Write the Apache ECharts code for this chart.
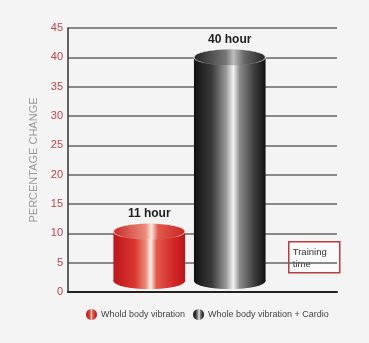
<!DOCTYPE html>
<html>
<head>
<meta charset="utf-8">
<script src="https://cdn.jsdelivr.net/npm/echarts@6/dist/echarts.min.js"></script>
<style>
  html, body { margin: 0; padding: 0; background: #f4f4f4; }
  #main { width: 369px; height: 343px; }
</style>
</head>
<body>
<div id="main"></div>
<script>
// data
var categories = ['Whold body vibration', 'Whole body vibration + Cardio'];
var values = [10.3, 40];
var barLabels = ['11 hour', '40 hour'];
var yTicks = { min: 0, max: 45, interval: 5 };

var redBody = [
    { offset: 0, color: '#c0141b' },
    { offset: 0.3, color: '#d8372f' },
    { offset: 0.45, color: '#eb8a78' },
    { offset: 0.52, color: '#fdf0ea' },
    { offset: 0.6, color: '#e25a4c' },
    { offset: 0.85, color: '#d22525' },
    { offset: 1, color: '#bc141a' }
];
var redTop = [
    { offset: 0, color: '#c82a2a' },
    { offset: 0.45, color: '#ec8a7a' },
    { offset: 0.53, color: '#fbe6de' },
    { offset: 0.62, color: '#e05a4c' },
    { offset: 1, color: '#c82424' }
];
var blackBody = [
    { offset: 0, color: '#111111' },
    { offset: 0.25, color: '#3a3a3a' },
    { offset: 0.45, color: '#9a9a9a' },
    { offset: 0.55, color: '#f4f4f4' },
    { offset: 0.64, color: '#8a8a8a' },
    { offset: 0.85, color: '#3a3a3a' },
    { offset: 1, color: '#121212' }
];
var blackTop = [
    { offset: 0, color: '#222222' },
    { offset: 0.45, color: '#777777' },
    { offset: 0.55, color: '#bdbdbd' },
    { offset: 0.7, color: '#666666' },
    { offset: 1, color: '#222222' }
];

var grad = function (stops) {
    return new echarts.graphic.LinearGradient(0, 0, 1, 0, stops);
};

var cylinder = function (bodyStops, topStops, rimColor) {
    return function (params, api) {
        var x = api.value(0);
        var top = api.coord([x, api.value(1)]);
        var base = api.coord([x, 0]);
        var w = api.size([1, 0])[0] * 0.89;
        var rx = w / 2, ry = 8;
        var bottomY = base[1] - ry - 3;
        return {
            type: 'group',
            children: [
                {
                    type: 'circle',
                    shape: { cx: 0, cy: 0, r: rx },
                    x: top[0], y: bottomY, scaleY: ry / rx,
                    style: { fill: grad(bodyStops) }
                },
                {
                    type: 'rect',
                    shape: { x: top[0] - rx, y: top[1], width: w, height: bottomY - top[1] },
                    style: { fill: grad(bodyStops) }
                },
                {
                    type: 'circle',
                    shape: { cx: 0, cy: 0, r: rx },
                    x: top[0], y: top[1], scaleY: ry / rx,
                    style: { fill: grad(topStops), stroke: rimColor, lineWidth: 1.2 }
                },
                {
                    type: 'text',
                    x: top[0], y: top[1] - ry - 10,
                    style: {
                        text: barLabels[x],
                        fill: '#1e1e1e',
                        font: 'bold 12px Arial, "Liberation Sans", sans-serif',
                        align: 'center', verticalAlign: 'middle'
                    }
                }
            ]
        };
    };
};

var chartDom = document.getElementById('main');
var myChart = echarts.init(chartDom);
var option = {
    backgroundColor: '#f4f4f4',
    animation: false,
    grid: [
        { left: 68, right: 32, top: 28, bottom: 51 },
        { left: 109, right: 99, top: 28, bottom: 51 }
    ],
    xAxis: [
        {
            type: 'value', gridIndex: 0, min: 0, max: 1,
            axisLine: { show: true, lineStyle: { color: '#222', width: 2 } },
            axisTick: { show: false }, axisLabel: { show: false }, splitLine: { show: false }
        },
        { type: 'category', gridIndex: 1, data: categories, show: false }
    ],
    yAxis: [
        {
            type: 'value', gridIndex: 0,
            min: yTicks.min, max: yTicks.max, interval: yTicks.interval,
            name: 'PERCENTAGE CHANGE',
            nameLocation: 'middle',
            nameGap: 28,
            nameTextStyle: { color: '#999', fontSize: 11, fontFamily: 'Arial, "Liberation Sans", sans-serif' },
            axisLine: { show: true, lineStyle: { color: '#333', width: 1.5 } },
            axisTick: { show: false },
            axisLabel: { color: '#c4434a', fontSize: 11, margin: 5, fontFamily: 'Arial, "Liberation Sans", sans-serif' },
            splitLine: { show: true, lineStyle: { color: '#666', width: 1.5 } }
        },
        { type: 'value', gridIndex: 1, min: yTicks.min, max: yTicks.max, show: false }
    ],
    legend: {
        top: 304, left: 81,
        itemWidth: 11, itemHeight: 11, itemGap: 8,
        icon: 'circle',
        textStyle: { color: '#444', fontSize: 9, fontFamily: 'Arial, "Liberation Sans", sans-serif', padding: [0, 0, 0, -1] },
        data: [
            { name: categories[0], itemStyle: { color: grad(redBody) } },
            { name: categories[1], itemStyle: { color: grad(blackBody) } }
        ]
    },
    graphic: [
        {
            type: 'group', left: 288, top: 241,
            children: [
                {
                    type: 'rect', shape: { x: 0, y: 0, width: 51, height: 31 },
                    style: { fill: '#fbfbfb', stroke: '#c0393f', lineWidth: 1.5 }
                },
                {
                    type: 'text', x: 4, y: 5,
                    style: {
                        text: 'Training\ntime', fill: '#333', lineHeight: 12,
                        font: '9.5px Arial, "Liberation Sans", sans-serif'
                    }
                }
            ]
        }
    ],
    series: [
        {
            name: categories[0], type: 'custom',
            xAxisIndex: 1, yAxisIndex: 1,
            itemStyle: { color: grad(redBody) },
            renderItem: cylinder(redBody, redTop, '#f6d0c8'),
            data: [[0, values[0]]]
        },
        {
            name: categories[1], type: 'custom',
            xAxisIndex: 1, yAxisIndex: 1,
            itemStyle: { color: grad(blackBody) },
            renderItem: cylinder(blackBody, blackTop, '#d8d8d8'),
            data: [[1, values[1]]]
        }
    ]
};
myChart.setOption(option);
</script>
</body>
</html>
